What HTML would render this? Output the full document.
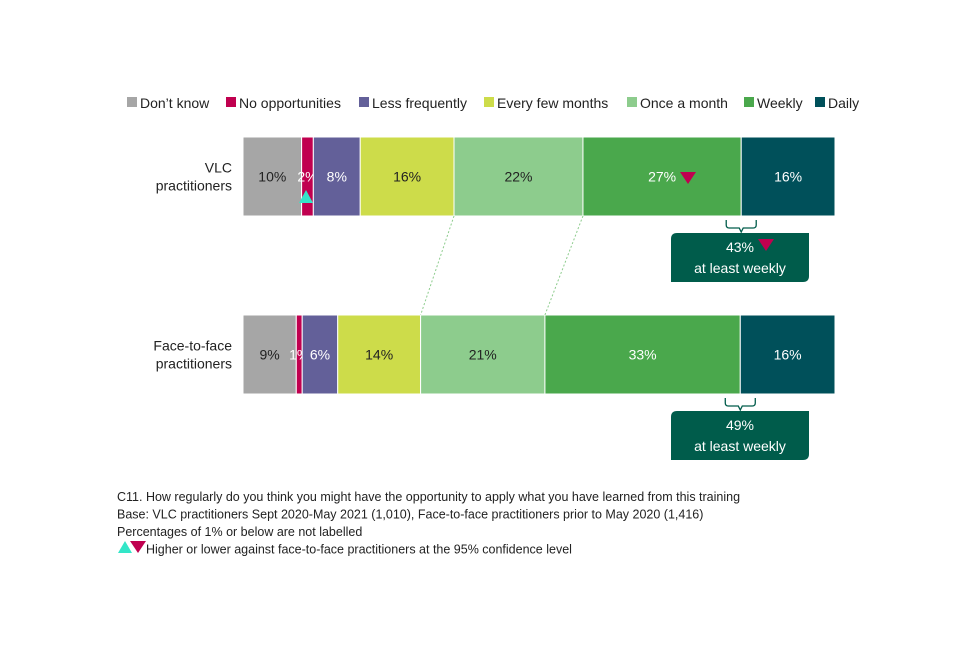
<!DOCTYPE html>
<html><head><meta charset="utf-8"><style>
body{margin:0;background:#fff;font-family:"Liberation Sans",Arial,sans-serif}
svg text{font-family:"Liberation Sans",Arial,sans-serif}
</style></head><body>
<svg id="c" width="960" height="640"></svg>
<script>
const categories=["VLC practitioners","Face-to-face practitioners"];
const seriesNames=["Don’t know","No opportunities","Less frequently","Every  few months","Once a month","Weekly","Daily"];
const vlcValues=[10,2,8,16,22,27,16];
const f2fValues=[9,1,6,14,21,33,16];
const weeklyTotals=[43,49];
const colors=["#a6a6a6","#c0004f","#636099","#cddc4a","#8dcc8d","#4aa84c","#00505a"];
const labelColors=["#222","#fff","#fff","#222","#222","#fff","#fff"];
const NS="http://www.w3.org/2000/svg";
const svg=document.getElementById('c');
function el(t,a,p){const e=document.createElementNS(NS,t);for(const k in a)e.setAttribute(k,a[k]);(p||svg).appendChild(e);return e;}
const X0=243,W=592,barYs=[137,315],BH=79;
function xs(vals,i){const s=vals.reduce((a,b)=>a+b,0);let c=0;for(let j=0;j<i;j++)c+=vals[j];return X0+c/s*W;}
// legend
const legX=[127,226,359,484,627,744,815];
seriesNames.forEach((n,i)=>{
  const g=el('g',{});
  
  
  el('rect',{x:legX[i],y:97,width:10,height:10,fill:colors[i]},g);
  const t=el('text',{x:legX[i]+13,y:108,'font-size':14,fill:'#222'},g);t.textContent=n;
});
[vlcValues,f2fValues].forEach((vals,b)=>{
  const y=barYs[b];
  const cl=el('text',{x:232,y:y+BH/2-4,'font-size':14,'text-anchor':'end',fill:'#222'});
  
  
  const l1=b==0?'VLC':'Face-to-face';
  el('tspan',{x:232},cl).textContent=l1;
  el('tspan',{x:232,dy:18},cl).textContent='practitioners';
  vals.forEach((v,i)=>{
    const x1=xs(vals,i),x2=xs(vals,i+1);
    const r=el('rect',{x:x1,y:y,width:x2-x1,height:BH,fill:colors[i],stroke:'#fff','stroke-width':1});
    
    
    const t=el('text',{x:(x1+x2)/2,y:y+BH/2+5,'font-size':14,'text-anchor':'middle',fill:labelColors[i]});
    
    
    t.textContent=v+'%';
  });
  const bx=xs(vals,6);
  el('path',{d:`M${bx-15} ${y+BH+4}v5q0 3 3 3h10l2 4l2 -4h10q3 0 3 -3v-5`,fill:'none',stroke:'#005c4b','stroke-width':1.3});
  const cy=y+BH+17;
  const box=el('path',{d:`M671 ${cy+49}V${cy+6}q0 -6 6 -6H809V${cy+43}q0 6 -6 6Z`,fill:'#005c4b'});
  
  
  const t1=el('text',{x:740,y:cy+19,'font-size':14,'text-anchor':'middle',fill:'#fff'});t1.textContent=weeklyTotals[b]+'%';
  const t2=el('text',{x:740,y:cy+40,'font-size':14,'text-anchor':'middle',fill:'#fff'});t2.textContent='at least weekly';
  if(b==0) el('polygon',{points:`758,${cy+6} 774,${cy+6} 766,${cy+18}`,fill:'#c0004f'});
});
[4,5].forEach(i=>{
  el('line',{x1:xs(vlcValues,i),y1:barYs[0]+BH,x2:xs(f2fValues,i),y2:barYs[1],stroke:'#8dcc8d','stroke-width':1,'stroke-dasharray':'2,2'});
});
el('polygon',{points:'680,172 696,172 688,184',fill:'#c0004f'});
el('polygon',{points:'299,203 313,203 306,190',fill:'#33e6c8'});
const notes=["C11. How regularly do you think you might have the opportunity to apply what you have learned from this training","Base: VLC practitioners Sept 2020-May 2021 (1,010), Face-to-face practitioners prior to May 2020 (1,416)","Percentages of 1% or below are not labelled","Higher or lower against face-to-face practitioners at the 95% confidence level"];
notes.forEach((n,i)=>{const t=el('text',{x:i==3?146:117,y:501+i*17.5,'font-size':12.5,fill:'#222'});t.textContent=n;});
el('polygon',{points:'118,553 132,553 125,541',fill:'#33e6c8'});
el('polygon',{points:'130,541 146,541 138,553',fill:'#c0004f'});
</script>
</body></html>
